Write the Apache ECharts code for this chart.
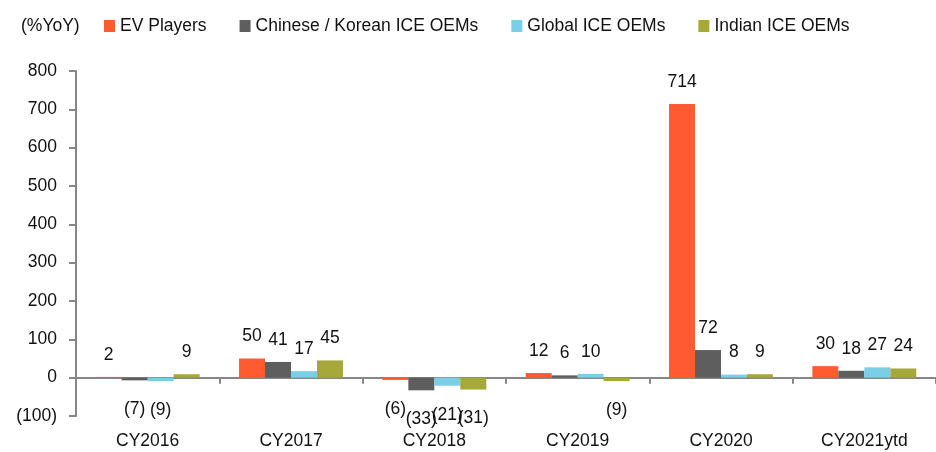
<!DOCTYPE html>
<html>
<head>
<meta charset="utf-8">
<title>YoY growth by OEM group</title>
<script src="https://cdn.jsdelivr.net/npm/echarts@6/dist/echarts.min.js"></script>
<style>
  html, body { margin: 0; padding: 0; background: #ffffff; }
  #chart { width: 936px; height: 452px; }
</style>
</head>
<body>
<div id="chart"></div>
<script>
// Calendar years on the category axis
const categories = ['CY2016', 'CY2017', 'CY2018', 'CY2019', 'CY2020', 'CY2021ytd'];

// YoY growth (%) per group
const evPlayers      = [2, 50, -6, 12, 714, 30];
const chineseKorean  = [-7, 41, -33, 6, 72, 18];
const globalIce      = [-9, 17, -21, 10, 8, 27];
const indianIce      = [9, 45, -31, -9, 9, 24];

const seriesNames = ['EV Players', 'Chinese / Korean ICE OEMs', 'Global ICE OEMs', 'Indian ICE OEMs'];
const seriesColors = ['#FF5A30', '#5E5E5E', '#7ACFE6', '#A6A83A'];

const FONT = '"Liberation Sans", Arial, sans-serif';
const FONT_SIZE = 17.5;
const TEXT_COLOR = '#111111';
const AXIS_GRAY = '#868686';

// Negative numbers are shown in accounting style: (7)
const fmt = v => (v < 0 ? '(' + Math.abs(v) + ')' : String(v));

function buildSeries(name, values, color) {
  return {
    name: name,
    type: 'bar',
    xAxisIndex: 0,
    yAxisIndex: 0,
    barGap: '0%',
    barCategoryGap: '27.5%',
    itemStyle: { color: color },
    label: {
      show: true,
      fontFamily: FONT,
      fontSize: FONT_SIZE,
      color: TEXT_COLOR,
      formatter: p => fmt(p.value)
    },
    data: values.map(v => ({
      value: v,
      label: v < 0 ? { position: 'bottom', distance: 20 } : { position: 'top', distance: 13 }
    }))
  };
}

const chart = echarts.init(document.getElementById('chart'), null, { renderer: 'canvas' });

chart.setOption({
  animation: false,
  backgroundColor: '#ffffff',
  textStyle: { fontFamily: FONT },
  graphic: [{
    type: 'text',
    left: 21,
    top: 17,
    style: { text: '(%YoY)', font: FONT_SIZE + 'px ' + FONT, fill: TEXT_COLOR }
  }],
  legend: {
    left: 104,
    top: 17,
    icon: 'rect',
    itemWidth: 11,
    itemHeight: 12,
    itemGap: 33,
    padding: 0,
    textStyle: { fontFamily: FONT, fontSize: FONT_SIZE, color: TEXT_COLOR },
    data: seriesNames
  },
  grid: { left: 76, right: -8.5, top: 71, bottom: 36, containLabel: false },
  xAxis: [{
    type: 'category',
    data: categories,
    axisLine: { onZero: true, lineStyle: { color: AXIS_GRAY, width: 2 } },
    axisTick: { show: true, alignWithLabel: false, length: 6, lineStyle: { color: AXIS_GRAY, width: 2 } },
    axisLabel: { show: false }
  }, {
    type: 'category',
    data: categories,
    position: 'bottom',
    axisLine: { show: false, onZero: false },
    axisTick: { show: false },
    axisLabel: { show: true, margin: 16, fontFamily: FONT, fontSize: FONT_SIZE, color: TEXT_COLOR }
  }],
  yAxis: {
    type: 'value',
    min: -100,
    max: 800,
    interval: 100,
    splitLine: { show: false },
    axisLine: { show: true, lineStyle: { color: AXIS_GRAY, width: 2 } },
    axisTick: { show: true, length: 7, lineStyle: { color: AXIS_GRAY, width: 2 } },
    axisLabel: { margin: 19, fontFamily: FONT, fontSize: FONT_SIZE, color: TEXT_COLOR, formatter: fmt }
  },
  series: [
    buildSeries(seriesNames[0], evPlayers, seriesColors[0]),
    buildSeries(seriesNames[1], chineseKorean, seriesColors[1]),
    buildSeries(seriesNames[2], globalIce, seriesColors[2]),
    buildSeries(seriesNames[3], indianIce, seriesColors[3])
  ]
});
</script>
</body>
</html>
